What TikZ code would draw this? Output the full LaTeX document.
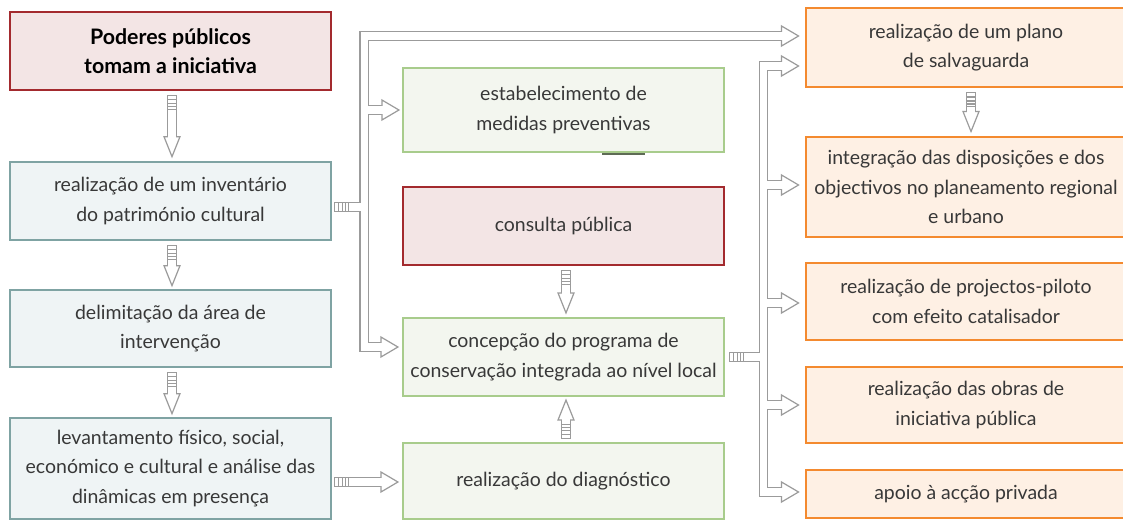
\documentclass[tikz,border=0pt]{standalone}
\usepackage{fontspec}
\setmainfont{Lato}
\usetikzlibrary{calc}
\definecolor{redB}{HTML}{A32A2E}
\definecolor{redF}{HTML}{F3E5E5}
\definecolor{tealB}{HTML}{7FA3A3}
\definecolor{tealF}{HTML}{EFF4F5}
\definecolor{greenB}{HTML}{A8CC8C}
\definecolor{greenF}{HTML}{F3F6EF}
\definecolor{orangeB}{HTML}{F48A2F}
\definecolor{orangeF}{HTML}{FEF0E4}
\definecolor{pipe}{HTML}{9B9B9B}
\definecolor{txt}{HTML}{383838}
\definecolor{artc}{HTML}{5E6B55}
\newcommand{\headR}[1]{\draw[tip] (#1) -- ++(-17,-10) -- ++(0,20) -- cycle; \draw[pipein] ($(#1)+(-19,0)$) -- ($(#1)+(-15,0)$);}
\newcommand{\headD}[1]{\draw[tip] (#1) -- ++(-8,-20) -- ++(16,0) -- cycle; \draw[pipein] ($(#1)+(0,-22)$) -- ($(#1)+(0,-18)$);}
\newcommand{\headU}[1]{\draw[tip] (#1) -- ++(-8,20) -- ++(16,0) -- cycle; \draw[pipein] ($(#1)+(0,22)$) -- ($(#1)+(0,18)$);}
\newcommand{\stripesR}[1]{\foreach \d in {0,4.5,8.5,11.5,14}{\draw[stripe] ($(#1)+(\d,-4.25)$) -- ($(#1)+(\d,4.25)$);}}
\newcommand{\stripesD}[1]{\foreach \d in {0,4.5,8.5,11.5,14}{\draw[stripe] ($(#1)+(-4.25,\d)$) -- ($(#1)+(4.25,\d)$);}}
\newcommand{\stripesU}[1]{\foreach \d in {0,4.5,8.5,11.5,14}{\draw[stripe] ($(#1)+(-4.25,-\d)$) -- ($(#1)+(4.25,-\d)$);}}
\newcommand{\allpipes}[1]{%
 \draw[#1] (v1s) -- ($(v1e)+(0,-18)$);
 \draw[#1] (v2s) -- ($(v2e)+(0,-18)$);
 \draw[#1] (v3s) -- ($(v3e)+(0,-18)$);
 \draw[#1] (v4s) -- ($(v4e)+(0,-18)$);
 \draw[#1] (v5s) -- ($(v5e)+(0,18)$);
 \draw[#1] (v6s) -- ($(v6e)+(0,-18)$);
 \draw[#1] (h1s) -- ($(h1e)+(-15,0)$);
 \draw[#1] ($(p1e)+(-15,0)$) -- (bus1 |- p1e) -- (bus1 |- c1e) -- ($(c1e)+(-15,0)$);
 \draw[#1] (b1s) -- (b1s -| bus1);
 \draw[#1] (bus1 |- e1e) -- ($(e1e)+(-15,0)$);
 \draw[#1] ($(p2e)+(-15,0)$) -- (bus2 |- p2e) -- (bus2 |- a2e) -- ($(a2e)+(-15,0)$);
 \draw[#1] (b2s) -- (b2s -| bus2);
 \draw[#1] (bus2 |- i2e) -- ($(i2e)+(-15,0)$);
 \draw[#1] (bus2 |- r2e) -- ($(r2e)+(-15,0)$);
 \draw[#1] (bus2 |- o2e) -- ($(o2e)+(-15,0)$);
}
\begin{document}
\begin{tikzpicture}[x=0.75pt,y=-0.75pt,
  box/.style={line width=1.8pt, align=center, inner sep=0pt, text=txt,
    font=\fontsize{14.6}{22}\selectfont},
  lbox/.style={box, draw=tealB, fill=tealF, line width=2pt, minimum width=240.75pt},
  redbox/.style={box, draw=redB, fill=redF, line width=2pt, minimum width=240.75pt},
  gbox/.style={box, draw=greenB, fill=greenF, line width=1.6pt, minimum width=240.75pt},
  obox/.style={box, draw=orangeB, fill=orangeF, line width=2.2pt, minimum width=240pt},
  pipeout/.style={draw=pipe, line width=7.3pt},
  pipein/.style={draw=white, line width=5.5pt},
  tip/.style={draw=pipe, fill=white, line width=0.9pt, line join=miter},
  stripe/.style={draw=pipe, line width=0.8pt}]
\useasboundingbox (0,0) rectangle (1123,521);
% left column
\node[redbox, minimum height=58.5pt, text=black, font=\bfseries\fontsize{16}{22}\selectfont] (pod) at (170.5,51) {Poderes públicos\\tomam a iniciativa};
\node[lbox, minimum height=58.5pt] (inv) at (170.5,201) {realização de um inventário\\do património cultural};
\node[lbox, minimum height=57.75pt] (del) at (170.5,328.5) {delimitação da área de\\intervenção};
\node[lbox, minimum height=75.75pt] (lev) at (170.5,468.5) {levantamento físico, social,\\económico e cultural e análise das\\dinâmicas em presença};
% middle column
\node[gbox, minimum height=63pt] (est) at (563.5,110) {estabelecimento de\\medidas preventivas};
\node[redbox, minimum height=58.5pt] (con) at (563.5,226) {consulta pública};
\node[gbox, minimum height=58.5pt] (cpc) at (563.5,357) {concepção do programa de\\conservação integrada ao nível local};
\node[gbox, minimum height=57pt] (dia) at (563.5,481) {realização do diagnóstico};
\draw[draw=artc, line width=1.5pt] ($(est.south)+(38.5,0.5)$) -- ($(est.south)+(81.5,0.5)$);
% right column
\node[obox, minimum height=59.25pt] (pla) at (966,47.5) {realização de um plano\\de salvaguarda};
\node[obox, minimum height=75pt] (int) at (966,187) {integração das disposições e dos\\objectivos no planeamento regional\\e urbano};
\node[obox, minimum height=57.75pt] (pro) at (966,301.5) {realização de projectos-piloto\\com efeito catalisador};
\node[obox, minimum height=57pt] (obr) at (966,405) {realização das obras de\\iniciativa pública};
\node[obox, minimum height=36pt] (apo) at (966,494) {apoio à acção privada};
% connector points
\coordinate (v1s) at ($(pod.south)+(1.5,4)$);
\coordinate (v1e) at ($(inv.north)+(1.5,-4)$);
\coordinate (v2s) at ($(inv.south)+(1.5,4)$);
\coordinate (v2e) at ($(del.north)+(1.5,-3)$);
\coordinate (v3s) at ($(del.south)+(1.5,4)$);
\coordinate (v3e) at ($(lev.north)+(1.5,-3)$);
\coordinate (v4s) at ($(con.south)+(2.5,4)$);
\coordinate (v4e) at ($(cpc.north)+(2.5,-4)$);
\coordinate (v5s) at ($(dia.north)+(2.5,-3)$);
\coordinate (v5e) at ($(cpc.south)+(2.5,3)$);
\coordinate (v6s) at ($(pla.south)+(5,4)$);
\coordinate (v6e) at ($(int.north)+(5,-4)$);
\coordinate (h1e) at ($(dia.west)+(-4,1)$);
\coordinate (h1s) at ($(h1e -| lev.east)+(2,0)$);
\coordinate (b1s) at ($(inv.east)+(2,6)$);
\coordinate (bus1) at ($(inv.east)+(32,0)$);
\coordinate (p1e) at ($(pla.west)+(-6,-11.5)$);
\coordinate (e1e) at ($(est.west)+(-3,0)$);
\coordinate (c1e) at ($(cpc.west)+(-4,-10)$);
\coordinate (b2s) at ($(cpc.east)+(4,0)$);
\coordinate (bus2) at ($(cpc.east)+(38.5,0)$);
\coordinate (p2e) at ($(pla.west)+(-6,18.5)$);
\coordinate (i2e) at ($(int.west)+(-6,-2)$);
\coordinate (r2e) at ($(pro.west)+(-6,1.5)$);
\coordinate (o2e) at ($(obr.west)+(-6,0)$);
\coordinate (a2e) at ($(apo.west)+(-6,-2)$);
% connectors
\allpipes{pipeout}
\allpipes{pipein}
\headD{v1e} \headD{v2e} \headD{v3e} \headD{v4e} \headU{v5e} \headD{v6e}
\headR{h1e} \headR{p1e} \headR{e1e} \headR{c1e}
\headR{p2e} \headR{i2e} \headR{r2e} \headR{o2e} \headR{a2e}
\stripesD{v1s} \stripesD{v2s} \stripesD{v3s} \stripesD{v4s} \stripesU{v5s} \stripesD{v6s}
\stripesR{h1s} \stripesR{b1s} \stripesR{b2s}
\end{tikzpicture}
\end{document}
